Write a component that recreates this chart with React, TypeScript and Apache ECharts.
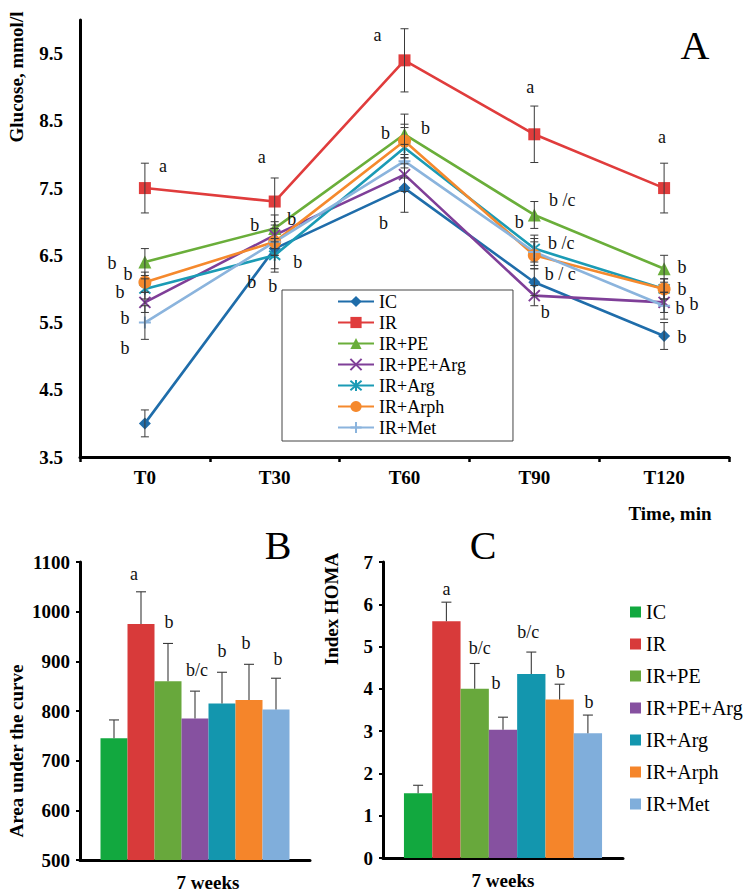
import React, { useEffect, useRef } from 'react';
import * as echarts from 'echarts';

// ---------- data ----------
const timePoints = ['T0', 'T30', 'T60', 'T90', 'T120'];
const groups = ['IC', 'IR', 'IR+PE', 'IR+PE+Arg', 'IR+Arg', 'IR+Arph', 'IR+Met'];
const glucoseYTicks = ['3.5', '4.5', '5.5', '6.5', '7.5', '8.5', '9.5'];

const glucoseIC = [4.0, 6.6, 7.5, 6.1, 5.3];
const glucoseIR = [7.5, 7.3, 9.4, 8.3, 7.5];
const glucosePE = [6.4, 6.9, 8.3, 7.1, 6.3];
const glucosePEArg = [5.8, 6.8, 7.7, 5.9, 5.8];
const glucoseArg = [6.0, 6.5, 8.1, 6.6, 6.0];
const glucoseArph = [6.1, 6.7, 8.2, 6.5, 6.0];
const glucoseMet = [5.5, 6.7, 7.9, 6.55, 5.75];

const errIC = [0.2, 0.3, 0.36, 0.2, 0.2];
const errIR = [0.37, 0.35, 0.47, 0.42, 0.37];
const errPE = [0.2, 0.2, 0.3, 0.2, 0.2];
const errPEArg = [0.15, 0.2, 0.25, 0.15, 0.15];
const errArg = [0.15, 0.25, 0.3, 0.2, 0.15];
const errArph = [0.15, 0.2, 0.25, 0.2, 0.15];
const errMet = [0.25, 0.2, 0.25, 0.2, 0.2];

// significance letters: [group, time index, text]
const glucoseLetters: [string, number, string][] = [
  ['IR', 0, 'a'], ['IR+PE', 0, 'b'], ['IR+Arph', 0, 'b'], ['IR+Arg', 0, 'b'], ['IR+PE+Arg', 0, 'b'], ['IR+Met', 0, 'b'],
  ['IR', 1, 'a'], ['IR+PE', 1, 'b'], ['IR+PE', 1, 'b'], ['IR+Arg', 1, 'b'], ['IC', 1, 'b'], ['IC', 1, 'b'],
  ['IR', 2, 'a'], ['IR+PE', 2, 'b'], ['IR+PE', 2, 'b'], ['IC', 2, 'b'],
  ['IR', 3, 'a'], ['IR+PE', 3, 'b /c'], ['IR+PE', 3, 'b'], ['IR+Arg', 3, 'b /c'], ['IC', 3, 'b / c'], ['IR+PE+Arg', 3, 'b'],
  ['IR', 4, 'a'], ['IR+PE', 4, 'b'], ['IR+Arph', 4, 'b'], ['IR+Met', 4, 'b'], ['IR+PE+Arg', 4, 'b'], ['IC', 4, 'b'],
];

const aucValues = [745, 975, 860, 785, 815, 822, 803];
const aucErrors = [37, 65, 76, 55, 63, 72, 63];
const aucLetters = ['', 'a', 'b', 'b/c', 'b', 'b', 'b'];

const homaValues = [1.53, 5.6, 4.0, 3.03, 4.35, 3.75, 2.95];
const homaErrors = [0.19, 0.45, 0.6, 0.3, 0.52, 0.36, 0.43];
const homaLetters = ['', 'a', 'b/c', 'b', 'b/c', 'b', 'b'];

// ---------- styles ----------
const FONT = 'Liberation Serif, serif';
const lineColors = ['#1F6DAA', '#E03C3C', '#6AAE3A', '#7F3F98', '#1B9BB5', '#F5892D', '#8BB4DD'];
const barColors = ['#12A83F', '#D83A3A', '#68A83C', '#8651A0', '#1396AE', '#F5852A', '#80AEDB'];
const lineSymbols = [
  'diamond', 'rect', 'triangle',
  'path://M0,0L10,10M10,0L0,10',
  'path://M0,0L10,10M10,0L0,10M5,-1L5,11',
  'circle',
  'path://M5,0L5,10M0,5L10,5',
];
const lineSymbolSizes = [12, 12, 13, 11, 11, 13, 12];
const strokedSymbol = [false, false, false, true, true, false, true];
const glucoseLetterOffsets: [number, number][] = [
  [18, -22], [-33, 1], [-17, -8], [-25, 3], [-20, 16], [-20, 25],
  [-13, -45], [-20, -3], [17, -9], [23, 7], [-23, 33], [-2, 37],
  [-27, -25], [-19, -1], [21, -6], [-21, 35],
  [-4, -47], [28, -15], [-15, 7], [27, -6], [26, -8], [11, 16],
  [-2, -51], [18, -2], [18, 0], [16, 2], [30, 2], [18, 1],
];
const aucLetterOffsets: [number, number][] = [[0, 0], [-7, -18], [1, -21], [2, -21], [0, -21], [-3, -21], [2, -19]];
const homaLetterOffsets: [number, number][] = [[0, 0], [0, -13], [5, -15], [-7, -34], [-3, -20], [1, -12], [1, -13]];
const BAR_W_B = 27;
const BAR_W_C = 28.3;

export default function App() {
  const ref = useRef<HTMLDivElement>(null);

  useEffect(() => {
    if (!ref.current) return;
    const chart = echarts.init(ref.current, undefined, { renderer: 'svg' });

    const glucose = [glucoseIC, glucoseIR, glucosePE, glucosePEArg, glucoseArg, glucoseArph, glucoseMet];
    const errs = [errIC, errIR, errPE, errPEArg, errArg, errArph, errMet];

    const lineSeries = groups.map((g, i) => ({
      type: 'line',
      name: g,
      xAxisIndex: 0,
      yAxisIndex: 0,
      data: glucose[i],
      symbol: lineSymbols[i],
      symbolSize: lineSymbolSizes[i],
      lineStyle: { color: lineColors[i], width: 2.6 },
      itemStyle: strokedSymbol[i]
        ? { color: lineColors[i], borderColor: lineColors[i], borderWidth: 2 }
        : { color: lineColors[i] },
      emphasis: { disabled: true },
      z: 3,
    }));

    const errRows: number[][] = [];
    groups.forEach((g, i) => {
      glucose[i].forEach((v, t) => errRows.push([t, v, errs[i][t]]));
    });

    const errSeries = {
      type: 'custom',
      xAxisIndex: 0,
      yAxisIndex: 0,
      data: errRows,
      encode: { x: 0, y: 1 },
      z: 4,
      silent: true,
      renderItem: (params: any, api: any) => {
        const x = api.value(0), v = api.value(1), e = api.value(2);
        const c = api.coord([x, v]);
        const t = api.coord([x, v + e]);
        const b = api.coord([x, v - e]);
        const st = { stroke: '#3a3a3a', lineWidth: 1 };
        return {
          type: 'group',
          children: [
            { type: 'line', shape: { x1: c[0], y1: t[1], x2: c[0], y2: b[1] }, style: st },
            { type: 'line', shape: { x1: c[0] - 4, y1: t[1], x2: c[0] + 4, y2: t[1] }, style: st },
            { type: 'line', shape: { x1: c[0] - 4, y1: b[1], x2: c[0] + 4, y2: b[1] }, style: st },
          ],
        };
      },
    };

    const letterRows = glucoseLetters.map(([g, t]) => [t, glucose[groups.indexOf(g)][t]]);
    const letterSeries = {
      type: 'custom',
      xAxisIndex: 0,
      yAxisIndex: 0,
      data: letterRows,
      encode: { x: 0, y: 1 },
      z: 5,
      silent: true,
      renderItem: (params: any, api: any) => {
        const i = params.dataIndex;
        const c = api.coord([api.value(0), api.value(1)]);
        const off = glucoseLetterOffsets[i];
        return {
          type: 'text',
          x: c[0] + off[0],
          y: c[1] + off[1],
          style: {
            text: glucoseLetters[i][2],
            fontFamily: FONT,
            fontSize: 18,
            fill: '#111',
            align: 'center',
            verticalAlign: 'middle',
          },
        };
      },
    };

    const makeBars = (vals: number[], axis: number, bw: number) =>
      groups.map((g, i) => ({
        type: 'bar',
        name: g + ' ',
        xAxisIndex: axis,
        yAxisIndex: axis,
        data: [vals[i]],
        barWidth: bw,
        barGap: '0%',
        itemStyle: { color: barColors[i] },
        emphasis: { disabled: true },
        z: 2,
      }));

    const makeBarErr = (vals: number[], errsArr: number[], letters: string[], offs: [number, number][], axis: number, bw: number) => ({
      type: 'custom',
      xAxisIndex: axis,
      yAxisIndex: axis,
      data: vals.map((v, i) => [0, v, errsArr[i], i]),
      encode: { x: 0, y: 1 },
      z: 5,
      silent: true,
      renderItem: (params: any, api: any) => {
        const v = api.value(1), e = api.value(2), gi = api.value(3);
        const c = api.coord([0, v]);
        const t = api.coord([0, v + e]);
        const x = c[0] + (gi - 3) * bw;
        const st = { stroke: '#3a3a3a', lineWidth: 1.1 };
        const off = offs[gi];
        const children: any[] = [
          { type: 'line', shape: { x1: x, y1: c[1], x2: x, y2: t[1] }, style: st },
          { type: 'line', shape: { x1: x - 5, y1: t[1], x2: x + 5, y2: t[1] }, style: st },
        ];
        if (letters[gi]) {
          children.push({
            type: 'text',
            x: x + off[0],
            y: t[1] + off[1],
            style: {
              text: letters[gi],
              fontFamily: FONT,
              fontSize: 18,
              fill: '#111',
              align: 'center',
              verticalAlign: 'middle',
            },
          });
        }
        return { type: 'group', children };
      },
    });

    const boldLabel = { fontFamily: FONT, fontWeight: 'bold', fontSize: 19, color: '#000' };
    const axisLineStyle = { lineStyle: { color: '#000', width: 3 } };

    const option: any = {
      animation: false,
      backgroundColor: '#fff',
      textStyle: { fontFamily: FONT },
      grid: [
        { left: 80, top: 20, width: 649, height: 437 },
        { left: 80, top: 562, width: 230, height: 298 },
        { left: 383, top: 562, width: 240, height: 296 },
      ],
      xAxis: [
        {
          gridIndex: 0,
          type: 'category',
          data: timePoints,
          boundaryGap: true,
          axisLine: axisLineStyle,
          axisTick: { show: true, length: 5, lineStyle: { color: '#000', width: 2.5 } },
          axisLabel: { ...boldLabel, margin: 11 },
          splitLine: { show: false },
        },
        {
          gridIndex: 1,
          type: 'category',
          data: ['7 weeks'],
          axisLine: axisLineStyle,
          axisTick: { show: false },
          axisLabel: { ...boldLabel, margin: 13, padding: [0, 0, 0, 26] },
        },
        {
          gridIndex: 2,
          type: 'category',
          data: ['7 weeks'],
          axisLine: axisLineStyle,
          axisTick: { show: false },
          axisLabel: { ...boldLabel, margin: 13 },
        },
      ],
      yAxis: [
        {
          gridIndex: 0,
          type: 'value',
          min: 3.5,
          max: 10,
          interval: 0.5,
          axisLine: { show: true, ...axisLineStyle },
          axisTick: { show: false },
          splitLine: { show: false },
          axisLabel: {
            ...boldLabel,
            margin: 17,
            formatter: (v: number) => (glucoseYTicks.includes(v.toFixed(1)) ? v.toFixed(1) : ''),
          },
        },
        {
          gridIndex: 1,
          type: 'value',
          min: 500,
          max: 1100,
          interval: 100,
          axisLine: { show: true, ...axisLineStyle },
          axisTick: { show: true, length: 4, lineStyle: { color: '#000', width: 2 } },
          splitLine: { show: false },
          axisLabel: { ...boldLabel, margin: 10, formatter: (v: number) => String(v) },
        },
        {
          gridIndex: 2,
          type: 'value',
          min: 0,
          max: 7,
          interval: 1,
          axisLine: { show: true, ...axisLineStyle },
          axisTick: { show: true, length: 4, lineStyle: { color: '#000', width: 2 } },
          splitLine: { show: false },
          axisLabel: { ...boldLabel, margin: 10, formatter: (v: number) => String(v) },
        },
      ],
      legend: [
        {
          data: groups,
          orient: 'vertical',
          left: 282,
          top: 290,
          padding: [1, 47, 3, 55],
          borderColor: '#444',
          borderWidth: 1,
          itemWidth: 36,
          itemHeight: 14,
          itemGap: 0,
          selectedMode: false,
          textStyle: { fontFamily: FONT, fontSize: 18, color: '#000', lineHeight: 21 },
        },
        {
          data: groups.map((g) => g + ' '),
          orient: 'vertical',
          left: 625,
          top: 597,
          icon: 'rect',
          itemWidth: 11,
          itemHeight: 11,
          itemGap: 12,
          selectedMode: false,
          formatter: (n: string) => n.trim(),
          textStyle: { fontFamily: FONT, fontSize: 20, color: '#000', lineHeight: 20 },
        },
      ],
      graphic: [
        { type: 'text', x: 695, y: 45, style: { text: 'A', fontFamily: FONT, fontSize: 40, fill: '#000', align: 'center', verticalAlign: 'middle' } },
        { type: 'text', x: 278, y: 545, style: { text: 'B', fontFamily: FONT, fontSize: 40, fill: '#000', align: 'center', verticalAlign: 'middle' } },
        { type: 'text', x: 483, y: 545, style: { text: 'C', fontFamily: FONT, fontSize: 40, fill: '#000', align: 'center', verticalAlign: 'middle' } },
        { type: 'text', x: 670, y: 513, style: { text: 'Time, min', fontFamily: FONT, fontWeight: 'bold', fontSize: 19, fill: '#000', align: 'center', verticalAlign: 'middle' } },
        { type: 'text', x: 16, y: 77, rotation: Math.PI / 2, style: { text: 'Glucose, mmol/l', fontFamily: FONT, fontWeight: 'bold', fontSize: 19, fill: '#000', align: 'center', verticalAlign: 'middle' } },
        { type: 'text', x: 16, y: 751, rotation: Math.PI / 2, style: { text: 'Area under the curve', fontFamily: FONT, fontWeight: 'bold', fontSize: 19, fill: '#000', align: 'center', verticalAlign: 'middle' } },
        { type: 'text', x: 331, y: 609, rotation: Math.PI / 2, style: { text: 'Index HOMA', fontFamily: FONT, fontWeight: 'bold', fontSize: 19, fill: '#000', align: 'center', verticalAlign: 'middle' } },
      ],
      series: [
        ...lineSeries,
        errSeries,
        letterSeries,
        ...makeBars(aucValues, 1, BAR_W_B),
        makeBarErr(aucValues, aucErrors, aucLetters, aucLetterOffsets, 1, BAR_W_B),
        ...makeBars(homaValues, 2, BAR_W_C),
        makeBarErr(homaValues, homaErrors, homaLetters, homaLetterOffsets, 2, BAR_W_C),
      ],
    };

    chart.setOption(option);
    return () => chart.dispose();
  }, []);

  return (
    <div
      ref={ref}
      style={{ position: 'fixed', left: 0, top: 0, width: 744, height: 896, background: '#fff' }}
    />
  );
}
